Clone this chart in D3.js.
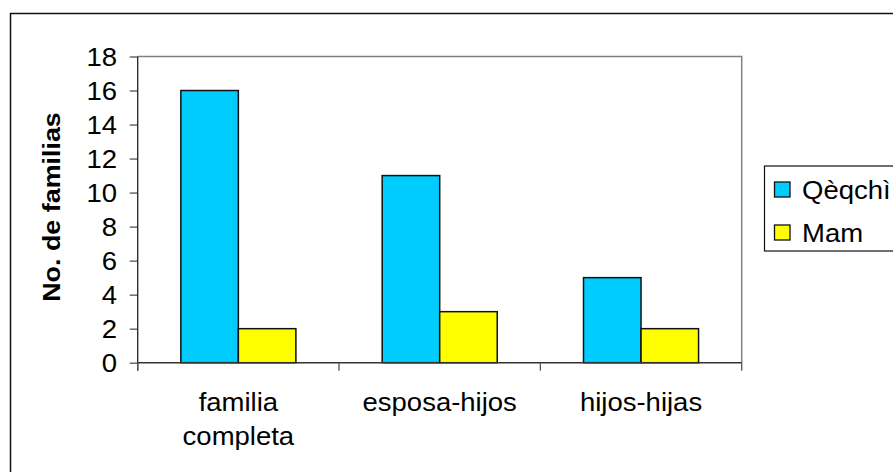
<!DOCTYPE html>
<html><head><meta charset="utf-8">
<script src="https://cdn.jsdelivr.net/npm/d3@7"></script>
<style>body{margin:0;background:#fff}svg{display:block}text{font-family:"Liberation Sans",Arial,sans-serif;fill:#000}</style>
</head><body>
<svg id="c" width="893" height="472"></svg>
<script>
const categories = ["familia\ncompleta", "esposa-hijos", "hijos-hijas"];
const seriesNames = ["Qèqchì", "Mam"];
const qeqchi = [16, 11, 5];
const mam = [2, 3, 2];
const yTicks = [0, 2, 4, 6, 8, 10, 12, 14, 16, 18];
const yTitle = "No. de familias";
const colors = ["#00CCFF", "#FFFF00"];

(function () {
const series = [qeqchi, mam];
const svg = d3.select("#c");
const SX = 1.1, FS = 25;

const pL = 137.7, pR = 741.7, pT = 56.5, pB = 362.7;
const x = d3.scaleBand().domain(categories).range([pL, pR]).padding(0);
const y = d3.scaleLinear().domain([0, 18]).range([pB, pT]);
const barW = x.bandwidth() / 3.5;
const xs = d3.scaleBand().domain(d3.range(series.length)).range([0.75 * barW, 0.75 * barW + 2 * barW]).padding(0);

// outer chart border
svg.append("rect").attr("x", 10.5).attr("y", 13.5).attr("width", 1000).attr("height", 1000)
  .attr("fill", "none").attr("stroke", "#111").attr("stroke-width", 1.5);

// plot area border (top/right gray)
svg.append("path").attr("d", `M${pL},${pT}H${pR}V${pB}`)
  .attr("fill", "none").attr("stroke", "#808080").attr("stroke-width", 1.5);

// bars
const g = svg.append("g");
categories.forEach((c, i) => {
  series.forEach((s, j) => {
    g.append("rect")
      .attr("x", x(c) + xs(j)).attr("width", xs.bandwidth())
      .attr("y", y(s[i])).attr("height", y(0) - y(s[i]))
      .attr("fill", colors[j]).attr("stroke", "#111").attr("stroke-width", 1.5);
  });
});

// y axis
const ya = svg.append("g").attr("transform", `translate(${pL},0)`)
  .call(d3.axisLeft(y).tickValues(yTicks).tickSize(8).tickFormat(d3.format("d")));
ya.select(".domain").remove();
ya.selectAll(".tick line").attr("stroke", "#555").attr("stroke-width", 1.3);
ya.selectAll(".tick text").attr("font-size", FS).attr("x", -20.7 / SX).attr("dy", "0.35em")
  .attr("transform", `scale(${SX},1)`).style("font-family", '"Liberation Sans",Arial,sans-serif');
svg.append("line").attr("x1", pL).attr("x2", pL).attr("y1", pT).attr("y2", pB + 8)
  .attr("stroke", "#222").attr("stroke-width", 1.3);

// x axis
svg.append("line").attr("x1", pL).attr("x2", pR).attr("y1", pB).attr("y2", pB)
  .attr("stroke", "#333").attr("stroke-width", 1.5);
const bounds = categories.map(c => x(c)).concat([pR]);
svg.selectAll(".xt").data(bounds).enter().append("line")
  .attr("x1", d => d).attr("x2", d => d).attr("y1", pB).attr("y2", pB + 8)
  .attr("stroke", "#555").attr("stroke-width", 1.3);
categories.forEach(c => {
  const cx = x(c) + x.bandwidth() / 2;
  c.split("\n").forEach((line, k) => {
    svg.append("text").attr("transform", `translate(${cx},${411 + k * 34}) scale(${SX},1)`)
      .attr("text-anchor", "middle").attr("font-size", FS).text(line);
  });
});

// y title
svg.append("text").attr("transform", `translate(60,207) rotate(-90) scale(1.12,1)`)
  .attr("text-anchor", "middle").attr("font-size", 24).attr("font-weight", "bold").text(yTitle);

// legend
svg.append("rect").attr("x", 764.5).attr("y", 166).attr("width", 300).attr("height", 85)
  .attr("fill", "#fff").attr("stroke", "#111").attr("stroke-width", 1.2);
seriesNames.forEach((n, j) => {
  const yy = 182 + j * 43;
  svg.append("rect").attr("x", 774.5).attr("y", yy).attr("width", 15.5).attr("height", 15)
    .attr("fill", colors[j]).attr("stroke", "#111").attr("stroke-width", 1.3);
  svg.append("text").attr("transform", `translate(802,${yy + 17}) scale(${SX},1)`)
    .attr("font-size", FS).text(n);
});
})();
</script>
</body></html>
